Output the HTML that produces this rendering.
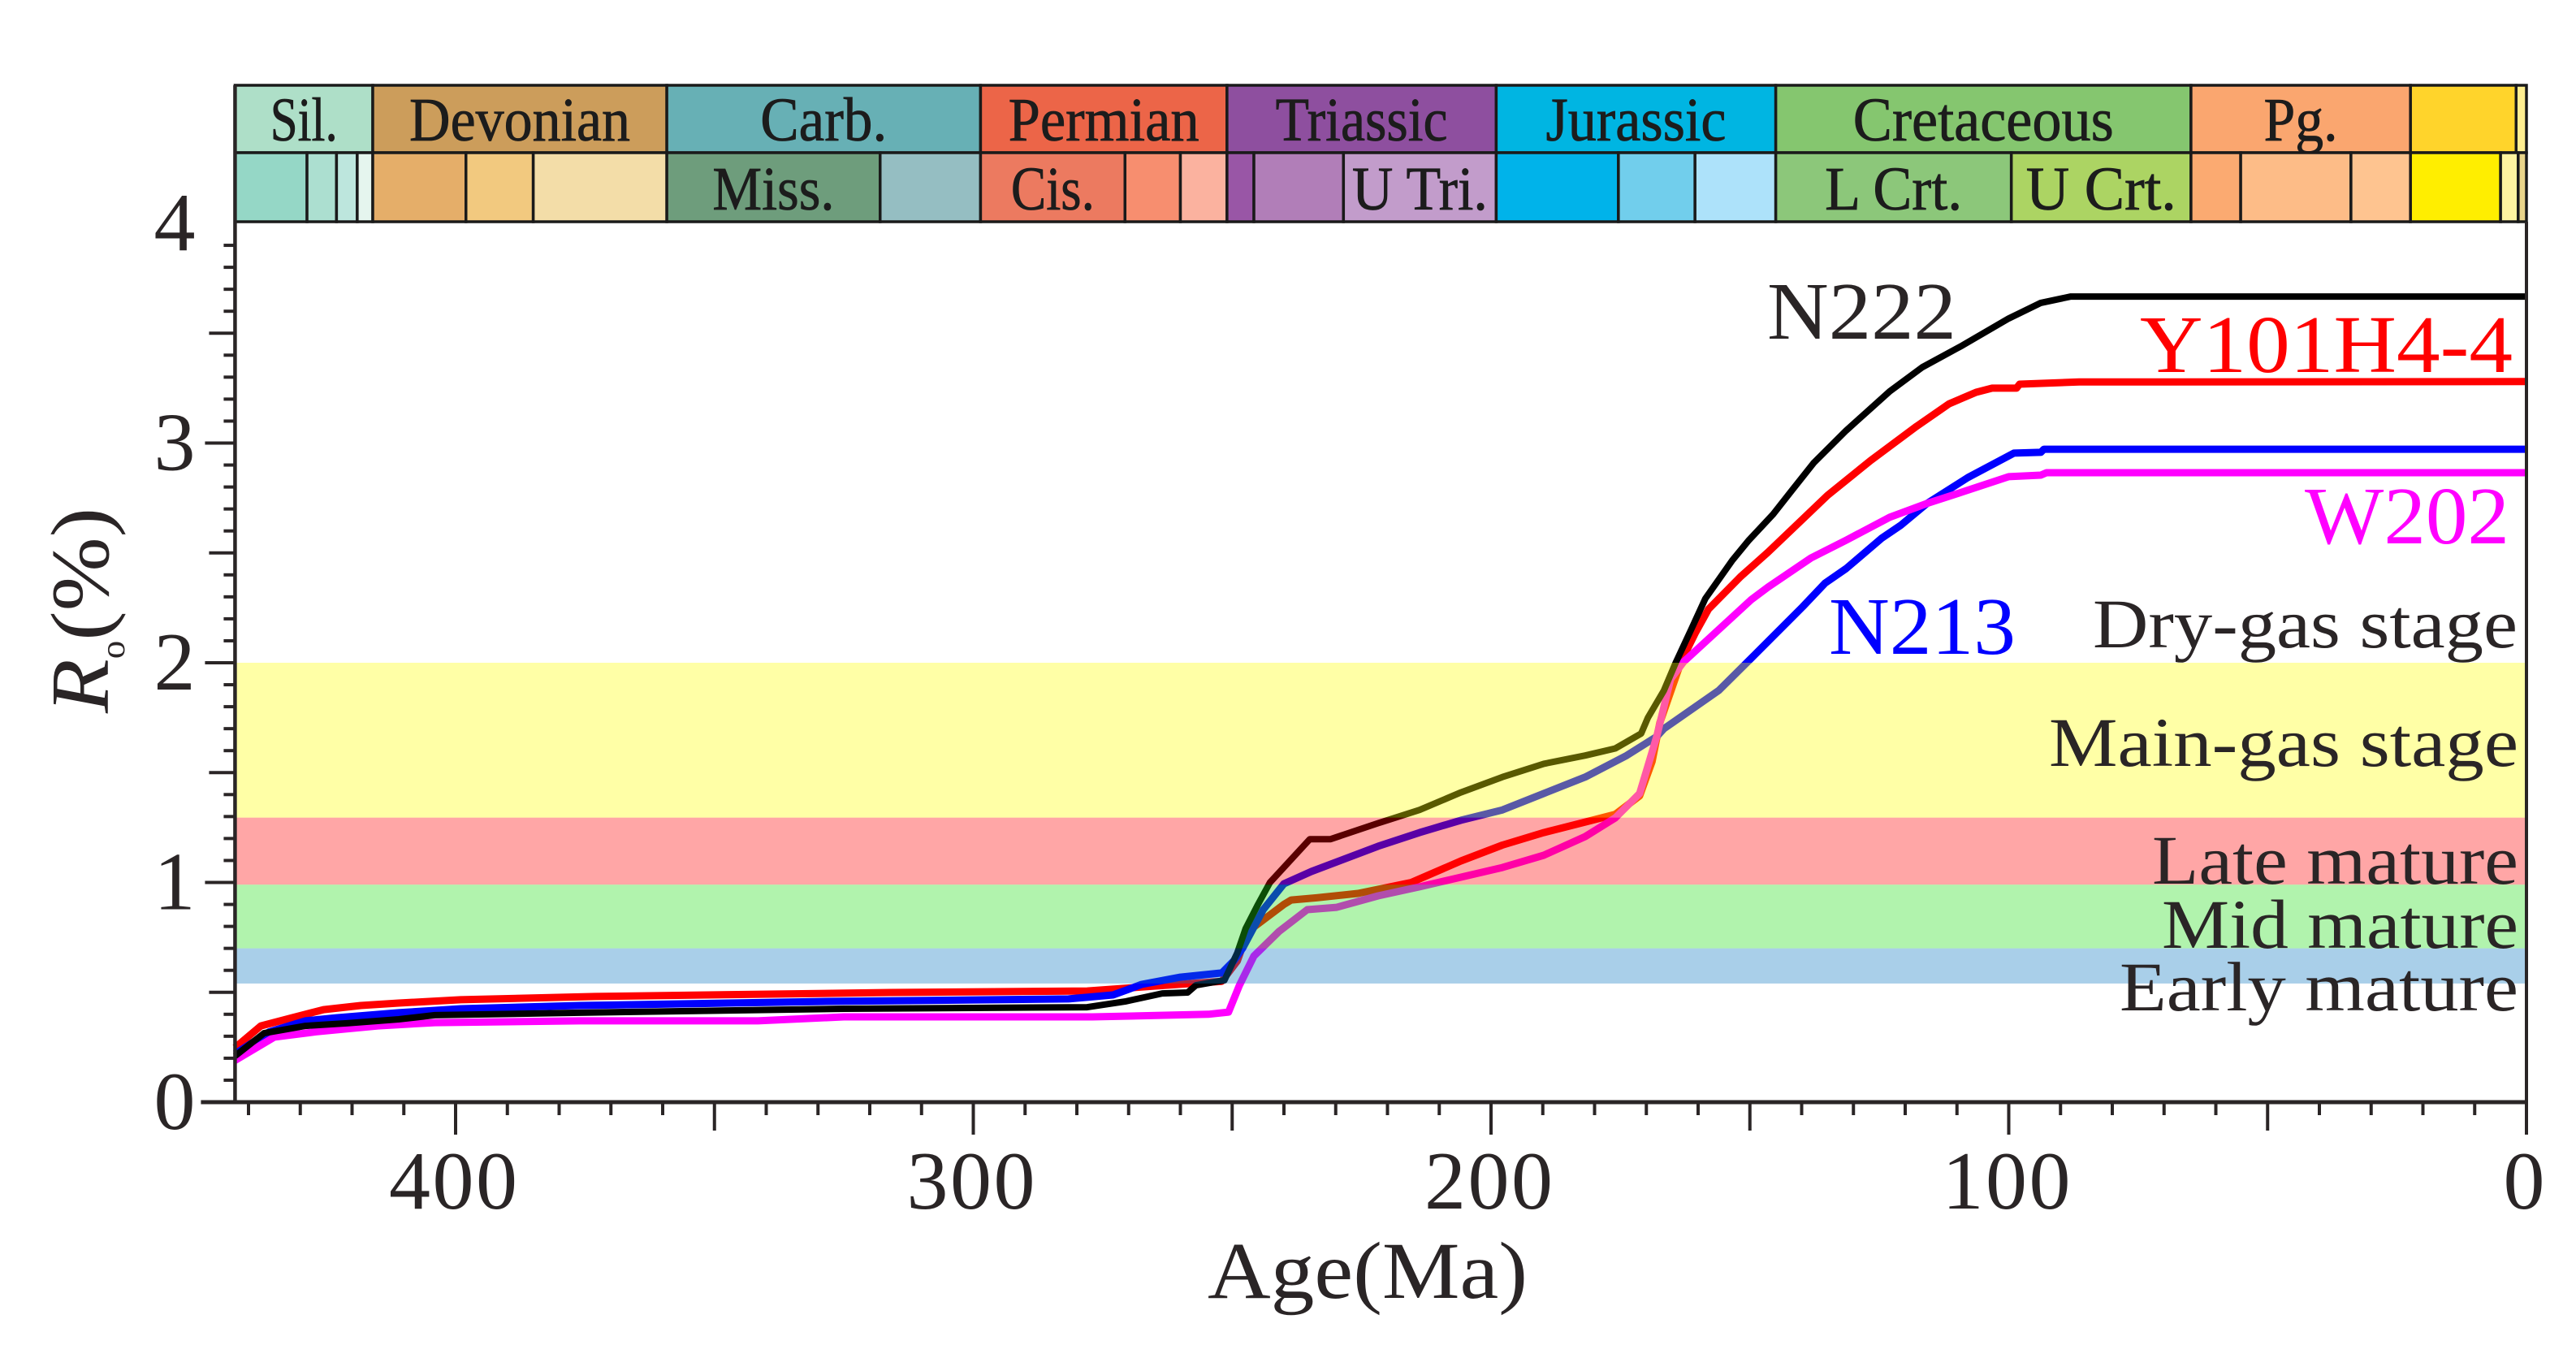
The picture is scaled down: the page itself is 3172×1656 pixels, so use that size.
<!DOCTYPE html>
<html lang="en">
<head>
<meta charset="utf-8">
<title>Thermal maturity history</title>
<style>
html,body{margin:0;padding:0;background:#fff;width:3172px;height:1656px;overflow:hidden}
svg{display:block}
text{font-family:"Liberation Serif",serif}
</style>
</head>
<body>
<svg id="chart" xmlns="http://www.w3.org/2000/svg" width="3172" height="1656" viewBox="0 0 3172 1656">
  <rect x="0" y="0" width="3172" height="1656" fill="#fff"/>
  <g id="series"></g>
  <g id="bands"></g>
  <g id="strip"></g>
  <g id="axes"></g>
  <g id="labels">
    <text transform="translate(133,878) rotate(-90)" font-size="102" fill="#2a2526" textLength="253" lengthAdjust="spacingAndGlyphs"><tspan font-style="italic">R</tspan><tspan font-size="42" dy="20">o</tspan><tspan dy="-20">(%)</tspan></text>
    <text x="1487" y="1598" font-size="100" fill="#2a2526" textLength="394" lengthAdjust="spacingAndGlyphs">Age(Ma)</text>
    <text x="2176" y="417" font-size="101" fill="#2a2526" textLength="233" lengthAdjust="spacingAndGlyphs">N222</text>
    <text x="2635" y="458" font-size="101" fill="#f00" textLength="459" lengthAdjust="spacingAndGlyphs">Y101H4-4</text>
    <text x="2838" y="669" font-size="101" fill="#f0f" textLength="252" lengthAdjust="spacingAndGlyphs">W202</text>
    <text x="2252" y="805" font-size="101" fill="#00f" textLength="230" lengthAdjust="spacingAndGlyphs">N213</text>
    <text x="2577" y="797" font-size="86" fill="#2a2526" textLength="523" lengthAdjust="spacingAndGlyphs">Dry-gas stage</text>
    <text x="2523" y="943" font-size="86" fill="#2a2526" textLength="578" lengthAdjust="spacingAndGlyphs">Main-gas stage</text>
    <text x="2650" y="1088" font-size="86" fill="#2a2526" textLength="451" lengthAdjust="spacingAndGlyphs">Late mature</text>
    <text x="2662" y="1167" font-size="86" fill="#2a2526" textLength="439" lengthAdjust="spacingAndGlyphs">Mid mature</text>
    <text x="2610" y="1244" font-size="86" fill="#2a2526" textLength="491" lengthAdjust="spacingAndGlyphs">Early mature</text>
  </g>
</svg>
<script>
// ---------- data ----------
const n222Ages = [442.6,437,429,421,411,404,376,325,278,270.7,263.5,258.6,257,251.5,249,247.4,245,242.7,235,231,221.8,213.8,205.8,197.8,189.8,181.8,176,171,169.7,166.6,164.4,161.2,158.6,153.4,150.2,145.5,141.8,137.7,131.4,123,116.7,108.9,100,93.8,88,0];
const n222Values = [0.21,0.314,0.347,0.359,0.377,0.396,0.407,0.425,0.432,0.458,0.495,0.499,0.532,0.555,0.68,0.79,0.90,1.0,1.197,1.197,1.27,1.33,1.41,1.48,1.54,1.578,1.61,1.678,1.75,1.874,1.996,2.159,2.292,2.466,2.558,2.676,2.787,2.909,3.057,3.235,3.345,3.445,3.567,3.638,3.667,3.667];

const y101Ages = [442.6,437.6,431.6,425.5,418.3,411,399,373,316,278,252,249,247,240,238.6,233.7,225.7,215.4,205.8,197.8,189.8,181.8,176,171.3,168.9,167.4,163.3,160.6,158,151.8,146.5,135,126.7,117.8,111.5,106.3,103.2,98.5,97.9,86.4,0];
const y101Values = [0.248,0.347,0.384,0.421,0.44,0.451,0.466,0.481,0.499,0.506,0.55,0.643,0.776,0.90,0.92,0.93,0.95,1.0,1.098,1.17,1.227,1.275,1.31,1.394,1.55,1.726,2.004,2.133,2.244,2.392,2.503,2.762,2.92,3.076,3.179,3.231,3.25,3.25,3.268,3.278,3.28];

const n213Ages = [442.6,436,429,423,411,399,376,329.5,281.6,273,270,267.5,260,252,249.7,248,244,240,234.7,221.8,213.8,205.8,197.8,189.8,181.8,173.8,168,166.6,156,149.2,139.8,135.5,131.4,124.6,120.9,115.8,107.9,99,93.8,93.2,0];
const n213Values = [0.22,0.32,0.37,0.384,0.407,0.425,0.44,0.458,0.47,0.488,0.514,0.536,0.569,0.588,0.643,0.70,0.876,0.994,1.05,1.165,1.227,1.283,1.33,1.405,1.48,1.578,1.664,1.70,1.874,2.033,2.255,2.362,2.429,2.566,2.625,2.725,2.843,2.954,2.958,2.972,2.972];

const w202Ages = [442.6,435,427,415,404,376,341.6,325,277,254.6,250.7,248.6,245.8,241,235.5,229.8,221.8,213.8,205.8,197.8,189.8,181.8,176,171.3,169.7,168,165.3,162.8,149.7,146.5,138.2,131.4,123,115.8,109.5,100,93.8,92.7,0];
const w202Values = [0.19,0.296,0.32,0.347,0.362,0.37,0.37,0.388,0.388,0.40,0.41,0.532,0.665,0.776,0.876,0.887,0.939,0.98,1.024,1.068,1.124,1.209,1.294,1.405,1.53,1.664,1.926,2.004,2.288,2.344,2.477,2.558,2.662,2.725,2.773,2.847,2.854,2.865,2.865];

const bandNames = ['dry-main-gas','late-mature','mid-mature','early-mature'];
const bandTops = [2.0,1.295,0.99,0.70];
const bandBottoms = [1.295,0.99,0.70,0.54];

const periodNames = ['Sil.','Devonian','Carb.','Permian','Triassic','Jurassic','Cretaceous','Pg.','',''];
const periodStarts = [442.6,416,359.2,298.6,251,199,145,64.8,22.4,2];
const periodEnds = [416,359.2,298.6,251,199,145,64.8,22.4,2,0];

const epochNames = ['','','','','','','','Miss.','','Cis.','','','','','U Tri.','','','','L Crt.','U Crt.','','','','','',''];
const epochStarts = [442.6,428.7,423,419,416,398,385,359.2,318,298.6,270.7,260,251,245.8,228.5,199,175.4,160.6,145,99.5,64.8,55.2,33.9,22.4,5,1.6];
const epochEnds = [428.7,423,419,416,398,385,359.2,318,298.6,270.7,260,251,245.8,228.5,199,175.4,160.6,145,99.5,64.8,55.2,33.9,22.4,5,1.6,0];

const xTickLabels = ['400','300','200','100','0'];
const xTickValues = [400,300,200,100,0];
const yTickLabels = ['0','1','2','3','4'];
const yTickValues = [0,1,2,3,4];

// ---------- palette and layout ----------
const bandFills = ['rgba(255,255,0,.35)','rgba(255,0,0,.35)','rgba(31,220,20,.35)','rgba(9,117,191,.35)'];
const periodFills = ['#AEDFC8','#CC9D5B','#67B0B5','#EC6548','#8E4F9F','#00B5E2','#85C66F','#FAA66F','#FFD42B','#FFEE90'];
const epochFills = ['#95D7C6','#ACDFD0','#BDE6DD','#E5F5EE','#E5AE69','#F2C97F','#F3DDA8','#6E9D7C','#95BEC2','#EC7A60','#F78E6F','#FBB29F','#9956A6','#B17EB8','#C29CCB','#00B3EA','#71CEEC','#ADE2FA','#8CC77A','#ACD463','#FBAA71','#FDBC87','#FEC490','#FFEE00','#FFF4A0','#E8D48A'];
const periodBaselineWidths = {'Sil.':83,'Devonian':272,'Carb.':156,'Permian':235,'Triassic':212,'Jurassic':222,'Cretaceous':321,'Pg.':91};
const epochBaselineWidths = {'Miss.':150,'Cis.':103,'U Tri.':167,'L Crt.':169,'U Crt.':185};

const NS = 'http://www.w3.org/2000/svg';
const X0 = 3111, PX_PER_MA = 6.375;
const Y0 = 1357, PX_PER_UNIT = 270.5;
const xScale = a => X0 - a * PX_PER_MA;
const yScale = v => Y0 - v * PX_PER_UNIT;
const LEFT = xScale(442.6), AXIS_COLOR = '#2a2526';

function make(tag, parent, attrs, text) {
  const el = document.createElementNS(NS, tag);
  for (const k in attrs) el.setAttribute(k, attrs[k]);
  if (text !== undefined) el.textContent = text;
  parent.appendChild(el);
  return el;
}

// ---------- series (drawn under the translucent bands) ----------
const seriesLayer = document.getElementById('series');
function drawSeries(ages, values, color, width, name) {
  const pts = ages.map((a, i) => xScale(a).toFixed(1) + ',' + yScale(values[i]).toFixed(1)).join(' ');
  const line = make('polyline', seriesLayer, {points: pts, fill: 'none', stroke: color, 'stroke-width': width, 'stroke-linejoin': 'round'});
  
  
}
drawSeries(y101Ages, y101Values, '#f00', 9, 'line-y101h4-4');
drawSeries(n213Ages, n213Values, '#00f', 9, 'line-n213');
drawSeries(w202Ages, w202Values, '#f0f', 9, 'line-w202');
drawSeries(n222Ages, n222Values, '#000', 8, 'line-n222');

// ---------- bands ----------
const bandLayer = document.getElementById('bands');
bandNames.forEach((n, i) => {
  const r = make('rect', bandLayer, {x: LEFT, y: yScale(bandTops[i]), width: X0 - LEFT, height: yScale(bandBottoms[i]) - yScale(bandTops[i]), fill: bandFills[i]});
  
  
});

// ---------- geologic strip ----------
const stripLayer = document.getElementById('strip');
const STRIP_TOP = 105, STRIP_MID = 188, STRIP_BOT = 273;
function drawCells(names, starts, ends, fills, top, bot, baseline, widths, prefix) {
  names.forEach((n, i) => {
    const x1 = xScale(starts[i]), x2 = xScale(ends[i]);
    const cell = make('rect', stripLayer, {x: x1, y: top, width: x2 - x1, height: bot - top, fill: fills[i], stroke: '#1a1a1a', 'stroke-width': 3.5});
    
    
    if (n) {
      const attrs = {x: (x1 + x2) / 2, y: baseline, 'font-size': 76, fill: '#1c1c1c', 'text-anchor': 'middle', stroke: '#1c1c1c', 'stroke-width': 0.8};
      attrs.textLength = widths[n];
      attrs.lengthAdjust = 'spacingAndGlyphs';
      const t = make('text', stripLayer, attrs, n);
      
      
    }
  });
}
drawCells(periodNames, periodStarts, periodEnds, periodFills, STRIP_TOP, STRIP_MID, 173, periodBaselineWidths, 'period');
drawCells(epochNames, epochStarts, epochEnds, epochFills, STRIP_MID, STRIP_BOT, 258, epochBaselineWidths, 'epoch');

// ---------- axes ----------
const axesLayer = document.getElementById('axes');
const yAxis = make('line', axesLayer, {x1: LEFT, x2: LEFT, y1: STRIP_TOP, y2: Y0 + 2, stroke: AXIS_COLOR, 'stroke-width': 4.5});


const xAxis = make('line', axesLayer, {x1: LEFT - 42, x2: X0 + 2, y1: Y0, y2: Y0, stroke: AXIS_COLOR, 'stroke-width': 5});


const rightEdge = make('line', axesLayer, {x1: X0, x2: X0, y1: STRIP_BOT, y2: Y0, stroke: AXIS_COLOR, 'stroke-width': 4});



for (let a = 0; a <= 440; a += 10) {
  const len = a % 100 === 0 ? 40 : (a % 50 === 0 ? 35 : 16);
  const t = make('line', axesLayer, {x1: xScale(a), x2: xScale(a), y1: Y0, y2: Y0 + len, stroke: AXIS_COLOR, 'stroke-width': 4});
  
  
}
for (let k = 0; k <= 39; k++) {
  const len = k % 10 === 0 ? 37 : (k % 5 === 0 ? 32 : 14);
  const t = make('line', axesLayer, {x1: LEFT - len, x2: LEFT, y1: yScale(k / 10), y2: yScale(k / 10), stroke: AXIS_COLOR, 'stroke-width': 4});
  
  
}
xTickValues.forEach((a, i) => {
  const lab = xTickLabels[i];
  const attrs = {x: xScale(a) - 3, y: 1488, 'font-size': 102, fill: '#2a2526', 'text-anchor': 'middle'};
  if (lab.length > 1) { attrs.textLength = 158; attrs.lengthAdjust = 'spacing'; }
  const t = make('text', axesLayer, attrs, lab);
  
  
});
yTickValues.forEach((v, i) => {
  const t = make('text', axesLayer, {x: 215, y: yScale(v) + 33, 'font-size': 102, fill: '#2a2526', 'text-anchor': 'middle'}, yTickLabels[i]);
  
  
});
</script>
</body>
</html>
